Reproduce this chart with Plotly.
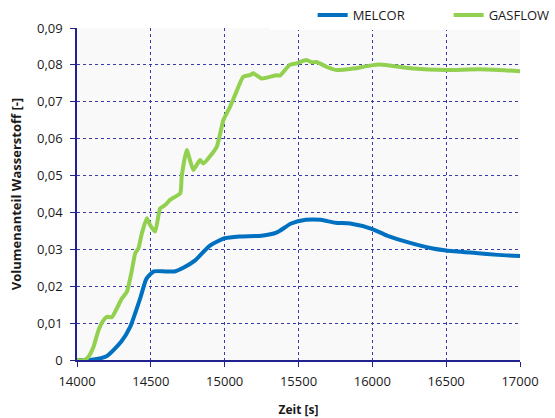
import plotly.graph_objects as go

melcor_t = [14000, 14100, 14200, 14300, 14360, 14430, 14470, 14520, 14600, 14660, 14720, 14800,
            14900, 15000, 15100, 15250, 15350, 15450, 15550, 15650, 15750, 15850, 16000, 16100,
            16250, 16400, 16500, 16700, 16850, 17000]
melcor_v = [0.0, 0.0001, 0.001, 0.005, 0.009, 0.017, 0.022, 0.024, 0.024, 0.024, 0.025, 0.027,
            0.031, 0.033, 0.0335, 0.0337, 0.0345, 0.037, 0.038, 0.038, 0.0372, 0.037, 0.0355, 0.0337,
            0.0318, 0.0303, 0.0297, 0.029, 0.0285, 0.0282]

gasflow_t = [14000, 14050, 14078, 14112, 14146, 14180, 14203, 14236, 14270, 14304, 14338, 14372,
             14394, 14416, 14439, 14473, 14495, 14529, 14563, 14597, 14630, 14699, 14709, 14743,
             14788, 14833, 14856, 14946, 14991, 15036, 15070, 15126, 15171, 15194, 15250, 15351,
             15374, 15441, 15486, 15554, 15588, 15622, 15689, 15757, 15869, 15982, 16050, 16274,
             16500, 16725, 17000]
gasflow_v = [0.0, 0.0, 0.0009, 0.0036, 0.0081, 0.0108, 0.0117, 0.0116, 0.014, 0.0167, 0.0185, 0.0244,
             0.0289, 0.0303, 0.0343, 0.0384, 0.0366, 0.0348, 0.0411, 0.042, 0.0434, 0.0452, 0.0497, 0.0569,
             0.0515, 0.0542, 0.0533, 0.0578, 0.065, 0.0686, 0.0718, 0.0768, 0.0772, 0.0777, 0.0763, 0.0772,
             0.0771, 0.08, 0.0804, 0.0813, 0.0807, 0.0808, 0.0795, 0.0786, 0.079, 0.0798, 0.0801, 0.079,
             0.0786, 0.0788, 0.0783]

x_ticks = [14000, 14500, 15000, 15500, 16000, 16500, 17000]
y_ticks = [0, 0.01, 0.02, 0.03, 0.04, 0.05, 0.06, 0.07, 0.08, 0.09]
y_labels = ["0", "0,01", "0,02", "0,03", "0,04", "0,05", "0,06", "0,07", "0,08", "0,09"]

font_family = "Open Sans, Noto Sans, sans-serif"
navy = "#22228F"
grid = "#3A3AA8"

fig = go.Figure()
fig.add_trace(go.Scatter(x=melcor_t, y=melcor_v, mode="lines", name="MELCOR",
                         line=dict(color="#0070C0", width=4, shape="spline", smoothing=0.6)))
fig.add_trace(go.Scatter(x=gasflow_t, y=gasflow_v, mode="lines", name="GASFLOW",
                         line=dict(color="#92D050", width=4, shape="spline", smoothing=0.5)))

fig.update_layout(
    width=555, height=418,
    margin=dict(l=77, r=35, t=28, b=58, autoexpand=False),
    paper_bgcolor="white",
    plot_bgcolor="#F9F9F9",
    font=dict(family=font_family, size=13, color="#1a1a1a"),
    separators=", ",
    legend=dict(orientation="h", x=0.436, y=1.084, xanchor="left", yanchor="top",
                bgcolor="white", font=dict(size=13, color="#1a1a1a"),
                title=dict(text="\u2003\u2003\u2002", side="left", font=dict(size=13)),
                entrywidth=91, entrywidthmode="pixels"),
    xaxis=dict(range=[14000, 17000], tickvals=x_ticks, ticktext=[str(v) for v in x_ticks],
               showgrid=True, gridcolor=grid, griddash="dot", gridwidth=1,
               showline=True, linecolor=navy, linewidth=1.5,
               ticks="outside", ticklen=5, tickcolor=navy, ticklabelstandoff=4,
               zeroline=False, automargin=False,
               title=dict(text="<b>Zeit [s]</b>", font=dict(size=12), standoff=16)),
    yaxis=dict(range=[0, 0.09], tickvals=y_ticks, ticktext=y_labels,
               showgrid=True, gridcolor=grid, griddash="dot", gridwidth=1,
               showline=True, linecolor=navy, linewidth=1.5,
               ticks="outside", ticklen=5, tickcolor=navy, ticklabelstandoff=5,
               zeroline=False, automargin=False,
               title=dict(text="<b>Volumenanteil Wasserstoff [-]</b>", font=dict(size=13), standoff=12)),
)

fig.write_html("out.html", config={"displayModeBar": False},
               post_script="document.body.style.margin='0';")
